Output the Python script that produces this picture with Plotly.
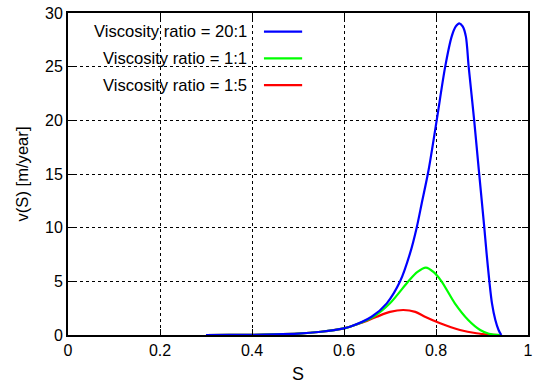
import plotly.graph_objects as go

# Saturation values and velocities
s_blue = [0.30, 0.35, 0.40, 0.45, 0.50, 0.55, 0.60, 0.613, 0.660, 0.693, 0.722, 0.7435, 0.758, 0.769, 0.784,
          0.8015, 0.820, 0.834, 0.843, 0.8507, 0.858, 0.865, 0.871, 0.883, 0.893, 0.905, 0.910, 0.916, 0.9217, 0.929, 0.936, 0.942]
v_blue = [0.0, 0.005, 0.02, 0.05, 0.12, 0.3, 0.62, 0.77, 1.7, 2.95, 5.0, 7.6, 10.0, 12.27, 15.4,
          20.0, 25.0, 27.8, 28.75, 29.04, 28.75, 27.8, 25.0, 20.0, 15.4, 10.0, 7.6, 5.0, 2.95, 1.4, 0.47, 0.0]

s_green = [0.30, 0.35, 0.40, 0.45, 0.50, 0.55, 0.60, 0.613, 0.664, 0.700, 0.740, 0.759, 0.778, 0.795,
           0.812, 0.841, 0.870, 0.896, 0.915, 0.940]
v_green = [0.0, 0.005, 0.02, 0.05, 0.12, 0.3, 0.62, 0.77, 1.7, 2.95, 5.0, 5.85, 6.27, 5.85,
           5.0, 2.95, 1.4, 0.47, 0.12, 0.0]

s_red = [0.30, 0.35, 0.40, 0.45, 0.50, 0.55, 0.60, 0.635, 0.671, 0.700, 0.729, 0.755, 0.776, 0.809,
         0.852, 0.888, 0.915, 0.940]
v_red = [0.0, 0.005, 0.02, 0.05, 0.12, 0.3, 0.62, 1.09, 1.7, 2.15, 2.33, 2.15, 1.7, 1.09,
         0.47, 0.16, 0.04, 0.0]

labels = ["Viscosity ratio = 20:1", "Viscosity ratio = 1:1", "Viscosity ratio = 1:5"]
colors = ["#0000ff", "#00ff00", "#ff0000"]

x_ticks = [0, 0.2, 0.4, 0.6, 0.8, 1]
x_ticktext = ["0", "0.2", "0.4", "0.6", "0.8", "1"]
y_ticks = [0, 5, 10, 15, 20, 25, 30]

FONT = "Liberation Sans, Arial, sans-serif"

fig = go.Figure()
for s, v, c, name in [(s_blue, v_blue, colors[0], labels[0]),
                      (s_green, v_green, colors[1], labels[1]),
                      (s_red, v_red, colors[2], labels[2])][::-1]:
    fig.add_trace(go.Scatter(x=s, y=v, mode="lines", name=name,
                             line=dict(color=c, width=2.2, shape="spline", smoothing=0.8),
                             showlegend=False))

# legend (text on left, sample line on right), white box covering grid
fig.add_shape(type="rect", xref="paper", yref="paper", x0=0, x1=0.526, y0=0.733, y1=1,
              fillcolor="white", line=dict(width=0), layer="between")
rows_y = [0.942, 0.859, 0.776]
for lab, col, yy in zip(labels, colors, rows_y):
    fig.add_annotation(xref="paper", yref="paper", x=0.3935, y=yy, text=lab,
                       showarrow=False, xanchor="right", yanchor="middle",
                       font=dict(family=FONT, size=16.6, color="black"))
    fig.add_shape(type="line", xref="paper", yref="paper", x0=0.426, x1=0.509, y0=yy, y1=yy,
                  line=dict(color=col, width=2.2))

axis_common = dict(showline=True, linecolor="black", linewidth=2, mirror="ticks",
                   ticks="inside", ticklen=6, tickwidth=1, tickcolor="black",
                   showgrid=True, gridcolor="black", gridwidth=1, griddash="dot",
                   zeroline=False, automargin=False,
                   tickfont=dict(family=FONT, size=16, color="black"))

fig.update_xaxes(range=[0, 1], tickvals=x_ticks, ticktext=x_ticktext,
                 title=dict(text="S", font=dict(family=FONT, size=18, color="black"), standoff=10),
                 **axis_common)
fig.update_yaxes(range=[0, 30], tickvals=y_ticks,
                 title=dict(text="v(S) [m/year]", font=dict(family=FONT, size=16.6, color="black"), standoff=12),
                 **axis_common)

fig.update_layout(width=535, height=384, margin=dict(l=68, r=7, t=13, b=49),
                  plot_bgcolor="white", paper_bgcolor="white",
                  font=dict(family=FONT, size=16, color="black"))

fig.write_html("out.html")
